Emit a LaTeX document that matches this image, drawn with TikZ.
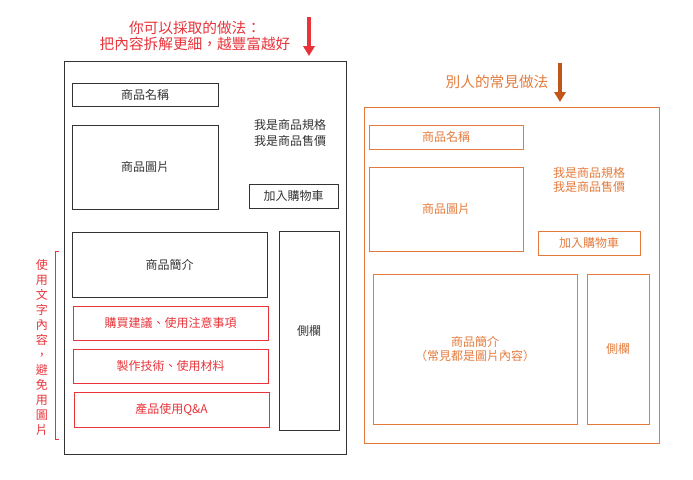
\documentclass[tikz,border=0pt]{standalone}
\usepackage{fontspec}
\setmainfont{Noto Sans CJK TC}
\usetikzlibrary{fit,arrows.meta}
\definecolor{dk}{HTML}{333333}
\definecolor{rd}{HTML}{E8333A}
\definecolor{og}{HTML}{E47B3C}
\definecolor{br}{HTML}{C2561A}
\tikzset{
  gbox/.style={draw=dk, line width=0.75pt, inner sep=0pt, fit={#1}},
  rbox/.style={draw=rd, line width=0.75pt, inner sep=0pt, fit={#1}},
  obox/.style={draw=og, line width=0.75pt, inner sep=0pt, fit={#1}},
  gt/.style={text=dk, font=\fontsize{9}{11.5}\selectfont, align=center},
  rt/.style={text=rd, font=\fontsize{9}{11.5}\selectfont, align=center},
  ot/.style={text=og, font=\fontsize{9}{11}\selectfont, align=center},
  bigarrow/.style={line width=2.4pt, -{Triangle[width=8.5pt,length=7.5pt]}},
}
\begin{document}
\begin{tikzpicture}[x=0.75pt,y=-0.75pt]
\useasboundingbox (0,0) rectangle (693,479);
% left panel
\node[gbox={(64,61) (346,454)}] (lp) {};
\node[text=rd, font=\fontsize{11}{12}\selectfont, align=center] (ltitle) at (195,36) {你可以採取的做法：\\把內容拆解更細，越豐富越好};
\coordinate (la) at (309,17);
\coordinate (lb) at (309,56);
\draw[rd, bigarrow] (la) -- (lb);
\node[gbox={(72,83) (218,106)}, label={[gt]center:商品名稱}] (lname) {};
\node[gbox={(72,125) (218,209)}, label={[gt]center:商品圖片}] (limg) {};
\node[gt] (lspec) at (290,133) {我是商品規格\\我是商品售價};
\node[gbox={(249,184) (338,208)}, label={[gt]center:加入購物車}] (lcart) {};
\node[gbox={(72,232) (267,297)}, label={[gt]center:商品簡介}] (lintro) {};
\node[gbox={(279,231) (339,430)}, label={[gt]center:側欄}] (lside) {};
\node[rbox={(73,306) (268,340)}, label={[rt]center:購買建議、使用注意事項}] (r1) {};
\node[rbox={(73,349) (268,383)}, label={[rt]center:製作技術、使用材料}] (r2) {};
\node[rbox={(74,392) (269,427)}, label={[rt]center:產品使用Q\&A}] (r3) {};
\draw[rd, line width=0.75pt] (59,251) -- (55,251) -- (55,439) -- (59,439);
\node[text=rd, font=\fontsize{9}{11.25}\selectfont, align=center] (vt) at (42,347) {使\\用\\文\\字\\內\\容\\，\\避\\免\\用\\圖\\片};
% right panel
\node[obox={(364,107) (659,443)}] (rp) {};
\node[text=og, font=\fontsize{11}{14}\selectfont] (rtitle) at (497,82) {別人的常見做法};
\coordinate (ra) at (560,63);
\coordinate (rb) at (560,102);
\draw[br, bigarrow] (ra) -- (rb);
\node[obox={(369,125) (523,149)}, label={[ot]center:商品名稱}] (oname) {};
\node[obox={(369,167) (523,251)}, label={[ot]center:商品圖片}] (oimg) {};
\node[ot] (ospec) at (589,180) {我是商品規格\\我是商品售價};
\node[obox={(538,231) (640,255)}, label={[ot]center:加入購物車}] (ocart) {};
\node[obox={(373,274) (577,424)}, label={[ot]center:商品簡介\\（常見都是圖片內容）}] (ointro) {};
\node[obox={(587,274) (649,424)}, label={[ot]center:側欄}] (oside) {};
\end{tikzpicture}
\end{document}
